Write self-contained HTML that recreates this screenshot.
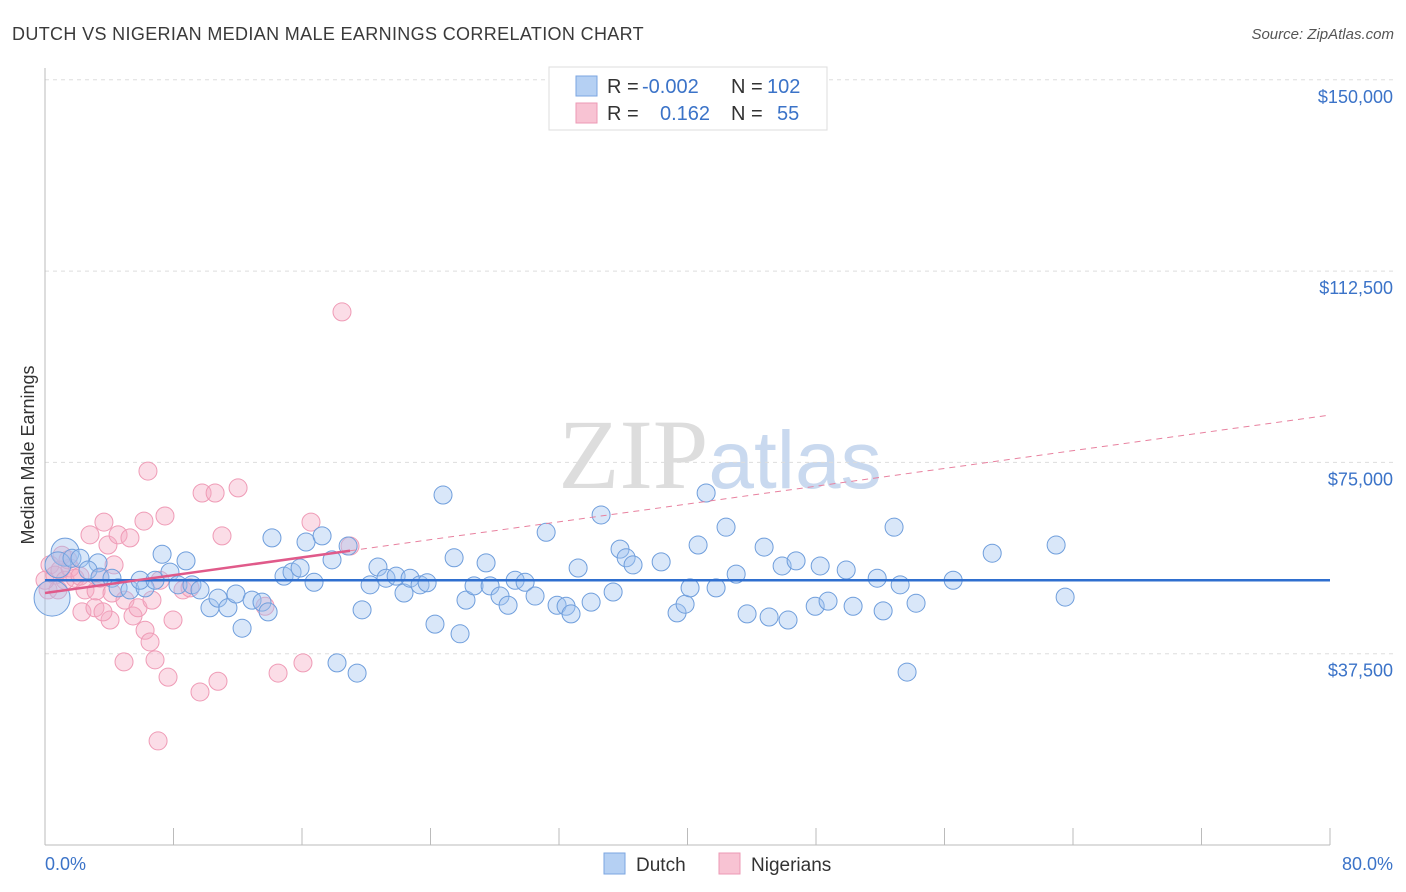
<!DOCTYPE html>
<html><head><meta charset="utf-8"><style>
body{margin:0;background:#fff;font-family:"Liberation Sans",sans-serif;}
svg{display:block}
</style></head><body>
<svg id="chart" width="1406" height="892" xmlns="http://www.w3.org/2000/svg" font-family="Liberation Sans, sans-serif">
<text x="12" y="40" font-size="18" fill="#3a3a3a" letter-spacing="0.35">DUTCH VS NIGERIAN MEDIAN MALE EARNINGS CORRELATION CHART</text>
<text x="1394" y="39" font-size="15" fill="#555" text-anchor="end" font-style="italic">Source: ZipAtlas.com</text>
<text x="720" y="488" font-size="100" text-anchor="middle" fill="#ddd" font-family="Liberation Serif, serif">ZIP<tspan fill="#c9d9ef" font-family="Liberation Sans, sans-serif" font-size="82">atlas</tspan></text>
<g id="grid"></g>
<g id="axes"></g>
<g id="marks"></g>
<g id="trends"></g>
<text transform="translate(34,455) rotate(-90)" font-size="18" fill="#333" text-anchor="middle">Median Male Earnings</text>
<text x="45" y="870" font-size="18" fill="#3b73c8">0.0%</text>
<text x="1393" y="870" font-size="18" fill="#3b73c8" text-anchor="end">80.0%</text>
<g>
<rect x="549" y="67" width="278" height="63" fill="#fff" stroke="#ddd"/>
<rect x="576" y="76" width="21" height="20" fill="#b5d0f3" stroke="#7ba6e0"/>
<rect x="576" y="103" width="21" height="20" fill="#f8c3d3" stroke="#ec9ab4"/>
<text x="607" y="93" font-size="20" fill="#333">R = <tspan x="642" fill="#3b73c8">-0.002</tspan><tspan x="731">N = </tspan><tspan x="767" fill="#3b73c8">102</tspan></text>
<text x="607" y="120" font-size="20" fill="#333">R = <tspan x="660" fill="#3b73c8">0.162</tspan><tspan x="731">N = </tspan><tspan x="777" fill="#3b73c8">55</tspan></text>
</g>
<g><rect x="604" y="853" width="21" height="21" fill="#b5d0f3" stroke="#7ba6e0"/><text x="636" y="871" font-size="19" fill="#333">Dutch</text></g>
<g><rect x="719" y="853" width="21" height="21" fill="#f8c3d3" stroke="#ec9ab4"/><text x="751" y="871" font-size="19" fill="#333">Nigerians</text></g>
</svg>
<script>
const yTicks=[37500,75000,112500,150000];
const yTickLabels=["$37,500","$75,000","$112,500","$150,000"];
const xTicks=[0,8,16,24,32,40,48,56,64,72,80];
const dutchX=[1.25,0.44,0.81,1.68,2.18,3.30,2.68,3.42,4.17,4.55,5.29,6.23,5.92,6.85,7.29,7.78,8.28,8.78,9.15,9.65,10.27,10.77,11.39,11.89,12.27,12.89,13.51,13.89,14.13,14.88,15.38,15.88,16.25,16.75,17.25,17.87,18.87,19.74,20.24,20.73,21.23,21.86,22.35,22.73,23.35,23.79,24.28,24.78,25.47,25.84,26.21,26.71,27.46,27.71,28.33,28.83,29.27,29.89,30.51,31.20,31.88,32.44,32.75,33.19,34.00,34.62,35.37,35.80,36.18,36.61,38.36,39.35,39.85,40.16,40.66,41.16,41.78,42.40,43.03,43.71,44.77,45.08,45.89,46.26,46.76,47.95,48.26,48.75,49.88,50.31,51.81,52.18,52.86,53.24,53.67,54.23,56.54,58.97,62.95,63.51,18.18,19.43];
const dutchY=[57.4,48.4,54.9,56.2,56.2,55.3,53.9,52.5,52.3,50.4,50.0,50.4,51.9,51.9,57.0,53.5,51.0,55.7,51.0,50.0,46.5,48.4,46.5,49.2,42.5,48.0,47.6,45.7,60.2,52.7,53.5,54.3,59.4,51.5,60.6,55.9,58.6,46.1,51.0,54.5,52.3,52.7,49.4,52.3,51.0,51.4,43.3,68.6,56.3,41.4,48.0,50.8,55.3,50.8,48.8,47.0,51.9,51.5,48.8,61.3,47.0,46.8,45.3,54.3,47.6,64.7,49.6,58.0,56.3,54.9,55.5,45.5,47.2,50.4,58.8,69.0,50.4,62.3,53.1,45.3,58.4,44.7,54.7,44.1,55.7,46.8,54.7,47.8,53.9,46.8,52.3,45.9,62.3,51.0,33.9,47.4,51.9,57.2,58.8,48.6,35.7,33.7];
const dutchBig=[14,18,13];
const nigX=[0.31,0.62,0.93,1.25,1.56,1.87,0.19,0.81,1.43,2.18,2.49,2.80,3.18,3.42,3.67,3.92,4.17,4.30,4.55,4.98,2.30,3.11,4.05,5.29,5.48,5.79,6.16,6.23,6.54,6.41,6.66,6.85,7.04,7.47,7.66,7.97,8.59,9.03,9.65,9.78,10.59,10.77,11.02,12.02,13.70,14.51,16.06,16.56,18.49,18.99,4.92,3.61,7.16,1.06,0.0];
const nigY=[54.9,52.9,53.9,51.9,54.3,52.3,50.0,50.0,55.9,52.7,50.0,60.8,49.8,52.3,63.3,58.8,49.4,54.9,60.8,48.0,45.7,46.5,44.1,60.2,44.9,46.5,63.5,42.1,39.8,73.3,48.0,36.3,20.4,64.5,32.9,44.1,50.0,50.4,30.0,69.0,69.0,32.1,60.6,70.0,46.8,33.7,35.7,63.3,104.5,58.6,35.9,45.7,51.9,56.8,51.9];
const dutchTrend=[51.9,0];
const nigTrend=[49.4,0.436];
const NS="http://www.w3.org/2000/svg";
const X=p=>45+p/80*1285;
const Y=k=>845-k*1000/37500*191.3;
function mk(tag,attrs,parent){const e=document.createElementNS(NS,tag);for(const a in attrs)e.setAttribute(a,attrs[a]);document.getElementById(parent).appendChild(e);return e;}
yTicks.forEach((v,i)=>{const y=Y(v/1000);
 const g=mk('line',{x1:45,x2:1393,y1:y,y2:y,stroke:'#ddd','stroke-dasharray':'4,4'},'grid');
 
 
 const t=mk('text',{x:1393,y:y+23,'font-size':18,fill:'#3b73c8','text-anchor':'end'},'grid');t.textContent=yTickLabels[i];
 
 
});
const ax=mk('line',{x1:45,x2:1330,y1:845,y2:845,stroke:'#bbb'},'axes');


const ay=mk('line',{x1:45,x2:45,y1:68,y2:845,stroke:'#bbb'},'axes');


xTicks.forEach(p=>{const t=mk('line',{x1:X(p),x2:X(p),y1:828,y2:845,stroke:'#bbb'},'axes');
 
 });
nigX.forEach((p,i)=>{const c=mk('circle',{cx:X(p),cy:Y(nigY[i]),r:9,fill:'rgba(245,170,195,0.4)',stroke:'#ef9bb6','stroke-width':1},'marks');
 
 });
dutchX.forEach((p,i)=>{const c=mk('circle',{cx:X(p),cy:Y(dutchY[i]),r:dutchBig[i]||9,fill:'rgba(160,195,240,0.4)',stroke:'#6f9edc','stroke-width':1},'marks');
 
 });
const dl=mk('line',{x1:X(0),x2:X(80),y1:Y(dutchTrend[0]),y2:Y(dutchTrend[0]+dutchTrend[1]*80),stroke:'#2f6fcf','stroke-width':2.5},'trends');


const xm=Math.max(...nigX);
const nl=mk('line',{x1:X(0),x2:X(xm),y1:Y(nigTrend[0]),y2:Y(nigTrend[0]+nigTrend[1]*xm),stroke:'#e05a8a','stroke-width':2.5},'trends');


const nd=mk('line',{x1:X(xm),x2:X(80),y1:Y(nigTrend[0]+nigTrend[1]*xm),y2:Y(nigTrend[0]+nigTrend[1]*80),stroke:'#e8819f','stroke-width':1,'stroke-dasharray':'6,5'},'trends');


</script>
</body></html>
